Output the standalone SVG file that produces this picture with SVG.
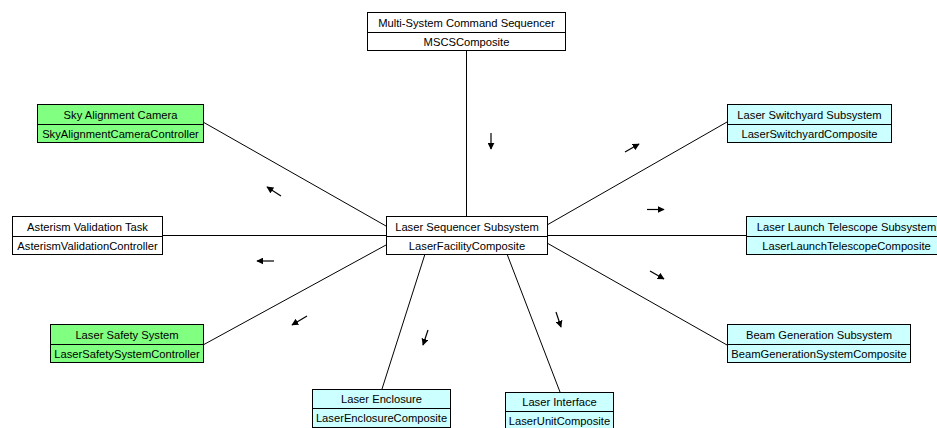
<svg xmlns="http://www.w3.org/2000/svg" width="937" height="428" viewBox="0 0 937 428">
<defs>
<marker id="ah" viewBox="0 0 10 10" refX="9" refY="5" markerWidth="7" markerHeight="7" markerUnits="userSpaceOnUse" orient="auto">
<path d="M0,0 L10,5 L0,10 z" fill="#000"/>
</marker>
</defs>
<style>
.box{stroke:#000;stroke-width:1}
.white{fill:#fff}
.green{fill:#80ff80}
.cyan{fill:#ccffff}
.div{stroke:#000;stroke-width:1}
text{font-family:"Liberation Sans",Arial,sans-serif;font-size:11.2px;fill:#000;text-anchor:middle}
.conn{stroke:#000;stroke-width:1;fill:none}
.arr{stroke:#000;stroke-width:1.2;fill:none;marker-end:url(#ah)}
</style>
<rect width="937" height="428" fill="#fff"/>
<g id="connectors">
<line class="conn" x1="466.5" y1="50" x2="466.5" y2="216"/>
<line class="conn" x1="203" y1="122" x2="386" y2="226"/>
<line class="conn" x1="162" y1="235.5" x2="386" y2="235.5"/>
<line class="conn" x1="203" y1="345" x2="386" y2="245"/>
<line class="conn" x1="425" y1="254" x2="382" y2="389"/>
<line class="conn" x1="507" y1="254" x2="560" y2="392"/>
<line class="conn" x1="547" y1="243" x2="727" y2="345"/>
<line class="conn" x1="547" y1="235.5" x2="746" y2="235.5"/>
<line class="conn" x1="547" y1="225" x2="727" y2="122"/>
<line class="arr" x1="491" y1="133" x2="491" y2="149"/>
<line class="arr" x1="281" y1="196" x2="267" y2="187"/>
<line class="arr" x1="274" y1="261" x2="257" y2="261"/>
<line class="arr" x1="307" y1="316" x2="292" y2="325"/>
<line class="arr" x1="428" y1="330" x2="423" y2="345"/>
<line class="arr" x1="556" y1="312" x2="561" y2="327"/>
<line class="arr" x1="650" y1="271" x2="664" y2="279"/>
<line class="arr" x1="647" y1="209.5" x2="664" y2="209.5"/>
<line class="arr" x1="625" y1="152" x2="639" y2="144"/>
</g>
<g id="mscs">
<rect class="box white" x="367.5" y="12.5" width="198" height="38"/>
<line class="div" x1="367.5" y1="32.5" x2="565.5" y2="32.5"/>
<text x="466.5" y="27">Multi-System Command Sequencer</text>
<text x="466.5" y="46">MSCSComposite</text>
</g>
<g id="sky">
<rect class="box green" x="37.5" y="104.5" width="166" height="38"/>
<line class="div" x1="37.5" y1="124.5" x2="203.5" y2="124.5"/>
<text x="120.5" y="119">Sky Alignment Camera</text>
<text x="120.5" y="138">SkyAlignmentCameraController</text>
</g>
<g id="switchyard">
<rect class="box cyan" x="727.5" y="104.5" width="164" height="38"/>
<line class="div" x1="727.5" y1="124.5" x2="891.5" y2="124.5"/>
<text x="809.5" y="119">Laser Switchyard Subsystem</text>
<text x="809.5" y="138">LaserSwitchyardComposite</text>
</g>
<g id="asterism">
<rect class="box white" x="12.5" y="216.5" width="150" height="38"/>
<line class="div" x1="12.5" y1="236.5" x2="162.5" y2="236.5"/>
<text x="87.5" y="231">Asterism Validation Task</text>
<text x="87.5" y="250">AsterismValidationController</text>
</g>
<g id="sequencer">
<rect class="box white" x="386.5" y="216.5" width="161" height="38"/>
<line class="div" x1="386.5" y1="236.5" x2="547.5" y2="236.5"/>
<text x="467" y="231">Laser Sequencer Subsystem</text>
<text x="467" y="250">LaserFacilityComposite</text>
</g>
<g id="launch">
<rect class="box cyan" x="746.5" y="216.5" width="200" height="38"/>
<line class="div" x1="746.5" y1="236.5" x2="946.5" y2="236.5"/>
<text x="846.5" y="231">Laser Launch Telescope Subsystem</text>
<text x="846.5" y="250">LaserLaunchTelescopeComposite</text>
</g>
<g id="safety">
<rect class="box green" x="50.5" y="324.5" width="153" height="38"/>
<line class="div" x1="50.5" y1="344.5" x2="203.5" y2="344.5"/>
<text x="127" y="339">Laser Safety System</text>
<text x="127" y="358">LaserSafetySystemController</text>
</g>
<g id="beam">
<rect class="box cyan" x="727.5" y="324.5" width="183" height="38"/>
<line class="div" x1="727.5" y1="344.5" x2="910.5" y2="344.5"/>
<text x="819" y="339">Beam Generation Subsystem</text>
<text x="819" y="358">BeamGenerationSystemComposite</text>
</g>
<g id="enclosure">
<rect class="box cyan" x="312.5" y="389.5" width="138" height="38"/>
<line class="div" x1="312.5" y1="408.5" x2="450.5" y2="408.5"/>
<text x="381.5" y="403">Laser Enclosure</text>
<text x="381.5" y="422">LaserEnclosureComposite</text>
</g>
<g id="interface">
<rect class="box cyan" x="505.5" y="392.5" width="108" height="38"/>
<line class="div" x1="505.5" y1="411.5" x2="613.5" y2="411.5"/>
<text x="559.5" y="406">Laser Interface</text>
<text x="559.5" y="425">LaserUnitComposite</text>
</g>
</svg>
